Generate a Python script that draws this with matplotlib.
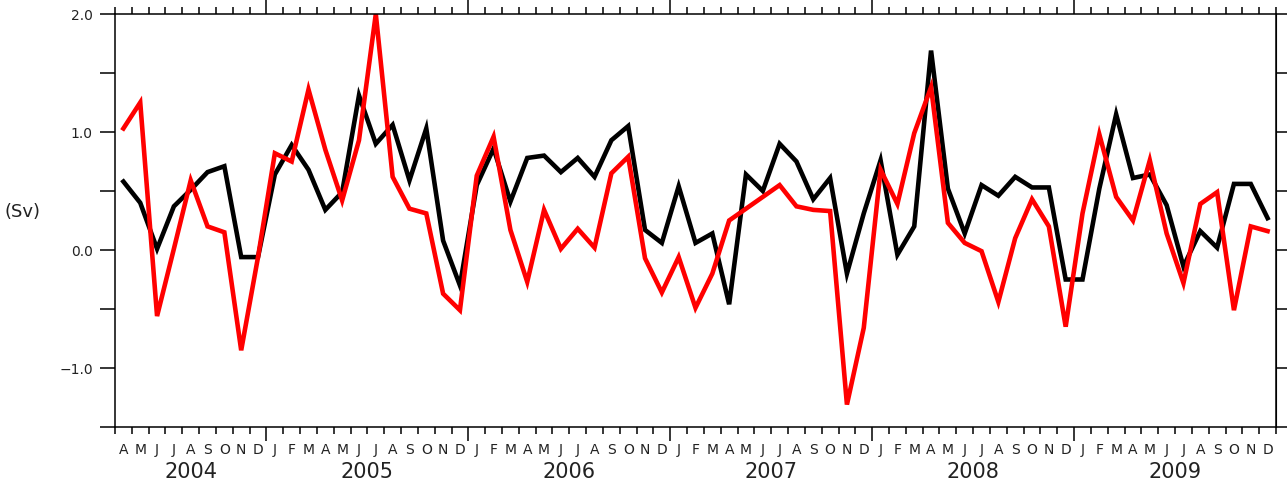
import matplotlib
matplotlib.use('Agg')
import matplotlib.pyplot as plt
import numpy as np

# monthly values, Apr 2004 .. Dec 2009 (Sv)
month_letters = ['J', 'F', 'M', 'A', 'M', 'J', 'J', 'A', 'S', 'O', 'N', 'D']
years = [2004, 2005, 2006, 2007, 2008, 2009]
first_month = 4

transport_1 = [0.58, 0.40, 0.01, 0.37, 0.51, 0.66, 0.71, -0.06, -0.06,
               0.64, 0.89, 0.68, 0.34, 0.49, 1.31, 0.90, 1.06, 0.59, 1.03, 0.08, -0.30,
               0.55, 0.86, 0.41, 0.78, 0.80, 0.66, 0.78, 0.62, 0.93, 1.05, 0.17, 0.06,
               0.54, 0.06, 0.14, -0.46, 0.64, 0.50, 0.90, 0.75, 0.43, 0.61, -0.20, 0.31,
               0.76, -0.04, 0.20, 1.69, 0.52, 0.14, 0.55, 0.46, 0.62, 0.53, 0.53, -0.25,
               -0.25, 0.52, 1.15, 0.61, 0.64, 0.38, -0.14, 0.16, 0.02, 0.56, 0.56, 0.27]

transport_2 = [1.03, 1.25, -0.56, 0.01, 0.59, 0.20, 0.15, -0.85, -0.06,
               0.82, 0.75, 1.36, 0.85, 0.42, 0.93, 2.00, 0.62, 0.35, 0.31, -0.37, -0.51,
               0.63, 0.96, 0.17, -0.27, 0.34, 0.01, 0.18, 0.02, 0.65, 0.79, -0.07, -0.36,
               -0.06, -0.49, -0.20, 0.25, 0.35, 0.45, 0.55, 0.37, 0.34, 0.33, -1.31, -0.66,
               0.68, 0.39, 0.99, 1.38, 0.23, 0.06, -0.01, -0.44, 0.10, 0.43, 0.20, -0.65,
               0.31, 0.98, 0.45, 0.25, 0.76, 0.14, -0.28, 0.39, 0.49, -0.51, 0.20, 0.16]

n = len(transport_1)
x = np.arange(n) + 0.5
txt = '#222222'

fig = plt.figure(figsize=(12.87, 4.88), dpi=100)
ax = fig.add_axes([115/1287, 1 - 427/488, (1276 - 115)/1287, (427 - 14)/488])

ax.plot(x, transport_1, color='black', lw=3.3, solid_joinstyle='miter')
ax.plot(x, transport_2, color='red', lw=3.3, solid_joinstyle='miter')

ax.set_xlim(0, n)
ax.set_ylim(-1.5, 2.0)

# month boundaries as minor ticks, year boundaries as major ticks
year_starts = [12 * k - (first_month - 1) for k in range(1, len(years))]
ax.set_xticks(year_starts)
ax.set_xticks(np.arange(0, n + 1), minor=True)
ax.tick_params(axis='x', which='major', length=10, width=1.1, direction='out',
               top=True, labelbottom=False, color='black')
ax.tick_params(axis='x', which='minor', length=5, width=1.1, direction='out',
               top=True, color='black')

yt = np.arange(-1.5, 2.01, 0.5)
ax.set_yticks(yt)
ax.set_yticklabels([('%.1f' % v).replace('-', '\u2212') if abs(v - round(v)) < 1e-6 else ''
                    for v in yt])
ax.tick_params(axis='y', length=11, width=1.1, direction='out', pad=5,
               labelsize=10, labelcolor=txt)

right = ax.secondary_yaxis('right')
right.set_yticks(yt)
right.set_yticklabels([])
right.tick_params(length=8, width=1.1, direction='out')

for s in ax.spines.values():
    s.set_linewidth(1.1)

# month letters under each month, year under its span
for i in range(n):
    m = (first_month - 1 + i) % 12
    ax.text(x[i], -0.055, month_letters[m], transform=ax.get_xaxis_transform(),
            ha='center', va='center', fontsize=10, color=txt)

for k, yr in enumerate(years):
    start = 0 if k == 0 else year_starts[k - 1]
    end = year_starts[k] if k < len(year_starts) else n
    ax.text((start + end) / 2, -0.11, str(yr), transform=ax.get_xaxis_transform(),
            ha='center', va='center', fontsize=15, color=txt)

fig.text(22/1287, 1 - 212/488, '(Sv)', ha='center', va='center', fontsize=13, color=txt)

fig.savefig('out.png', dpi=100)
